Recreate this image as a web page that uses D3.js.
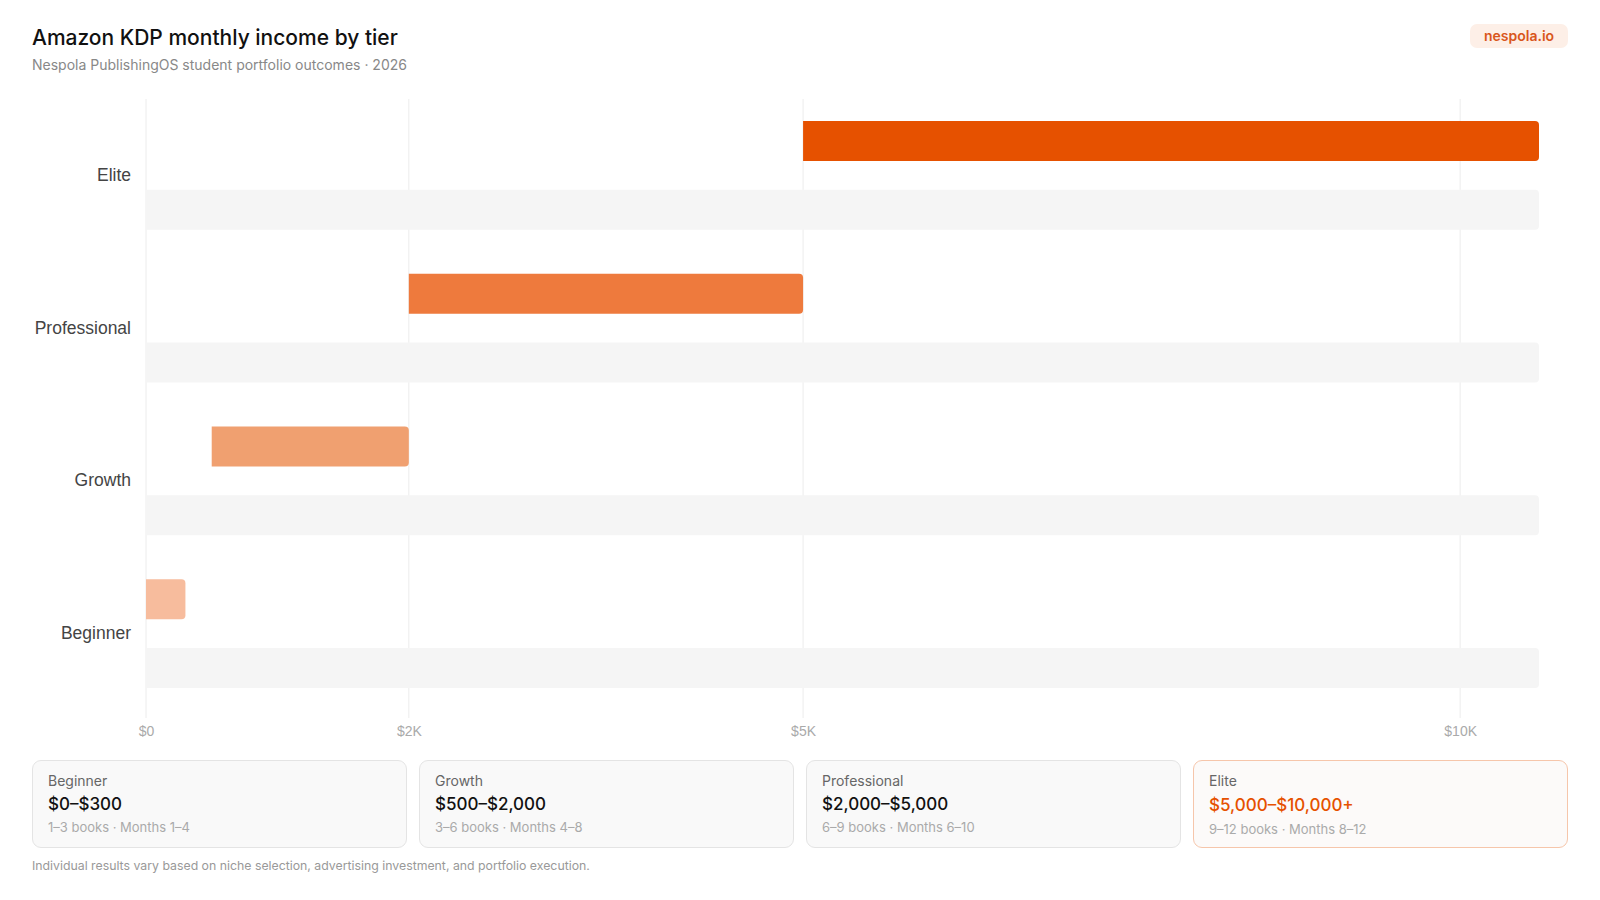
<!DOCTYPE html>
<html>
<head>
<meta charset="utf-8">
<script src="https://cdn.jsdelivr.net/npm/d3@7"></script>
<style>
  body { margin: 0; background: #fff; font-family: Inter, "Noto Sans", sans-serif; }
  #wrap { position: relative; width: 1600px; height: 900px; overflow: hidden; }
  .card { position: absolute; box-sizing: border-box; background: #f9f9f9; border: 1.5px solid #e4e4e4; border-radius: 9px; }
  .card.hot { border-color: #f6c6ab; background: #fcfaf9; }
  .card .lbl { position: absolute; left: 15px; top: 11px; font-size: 14px; color: #666; }
  .card .val { position: absolute; left: 15px; top: 33px; font-size: 17px; font-weight: 500; color: #111; }
  .card.hot .val { color: #e65100; top: 34px; }
  .card .sub { position: absolute; left: 15px; top: 58px; font-size: 13px; color: #aaa; }
  .card.hot .sub { top: 60px; }
</style>
</head>
<body>
<div id="wrap">
  <svg id="chart" width="1600" height="900" style="position:absolute;left:0;top:0"></svg>
</div>
<script>
// tiers, bottom to top
var tiers = ["Beginner", "Growth", "Professional", "Elite"];
var rangeLow = [0, 500, 2000, 5000];
var rangeHigh = [300, 2000, 5000, 10600];
var trackHigh = [10600, 10600, 10600, 10600];
var barColors = ["#f7bc9d", "#f0a070", "#ee7a3d", "#e65100"];

var xTicks = [0, 2000, 5000, 10000];
var xTickLabels = ["$0", "$2K", "$5K", "$10K"];

// cards under the chart
var cardRanges = ["$0\u2013$300", "$500\u2013$2,000", "$2,000\u2013$5,000", "$5,000\u2013$10,000+"];
var cardDetails = ["1\u20133 books \u00b7 Months 1\u20134", "3\u20136 books \u00b7 Months 4\u20138",
                   "6\u20139 books \u00b7 Months 6\u201310", "9\u201312 books \u00b7 Months 8\u201312"];

var data = tiers.map(function(t, i) {
  return {tier: t, lo: rangeLow[i], hi: rangeHigh[i], track: trackHigh[i], color: barColors[i]};
});

var plotLeft = 146, plotRight = 1539, plotTop = 99, plotBottom = 710;
var svg = d3.select("#chart");

// title + subtitle
svg.append("text").attr("x", 32).attr("y", 45)
  .style("font-family", "Inter").style("font-size", "21px").style("font-weight", 500)
  .attr("fill", "#111").text("Amazon KDP monthly income by tier");
svg.append("text").attr("x", 32).attr("y", 70)
  .style("font-family", "Inter").style("font-size", "14px")
  .attr("fill", "#888").text("Nespola PublishingOS student portfolio outcomes \u00b7 2026");

// badge
svg.append("rect").attr("x", 1470).attr("y", 24).attr("width", 98).attr("height", 24)
  .attr("rx", 7).attr("fill", "#fdefe7");
svg.append("text").attr("x", 1519).attr("y", 41).attr("text-anchor", "middle")
  .style("font-family", "Inter").style("font-size", "14px").style("font-weight", 600)
  .attr("fill", "#d9561c").text("nespola.io");

var x = d3.scaleLinear().domain([0, 10600]).range([plotLeft, plotRight]);
var y = d3.scaleBand().domain(tiers.slice().reverse()).range([plotTop, plotBottom])
  .paddingInner(0.1).paddingOuter(0.05);
var inner = d3.scaleBand().domain(["range", "track"]).range([0, y.bandwidth()])
  .paddingInner(0.42).paddingOuter(0.21);

// grid
svg.append("g").selectAll("line").data(xTicks).join("line")
  .attr("x1", d => x(d)).attr("x2", d => x(d))
  .attr("y1", plotTop).attr("y2", plotBottom + 8)
  .attr("stroke", "#ececec").attr("stroke-width", 1);

// bar with rounded right end
function barPath(x0, x1, y0, h, r) {
  r = Math.min(r, (x1 - x0) / 2, h / 2);
  return "M" + x0 + "," + y0 +
    "H" + (x1 - r) + "Q" + x1 + "," + y0 + " " + x1 + "," + (y0 + r) +
    "V" + (y0 + h - r) + "Q" + x1 + "," + (y0 + h) + " " + (x1 - r) + "," + (y0 + h) +
    "H" + x0 + "Z";
}

var rows = svg.append("g").selectAll("g").data(data).join("g")
  .attr("transform", d => "translate(0," + y(d.tier) + ")");

rows.append("path")
  .attr("d", d => barPath(x(0), x(d.track), inner("track"), inner.bandwidth(), 4))
  .attr("fill", "#f5f5f5");

rows.append("path")
  .attr("d", d => barPath(x(d.lo), x(d.hi), inner("range"), inner.bandwidth(), 4))
  .attr("fill", d => d.color);

// y labels
var yAxis = svg.append("g").attr("transform", "translate(" + (plotLeft - 15) + ",0)")
  .call(d3.axisLeft(y).tickSize(0).tickPadding(0));
yAxis.select(".domain").remove();
yAxis.selectAll("text").style("font-family", "'Liberation Sans', Arial, sans-serif")
  .style("font-size", "17.5px").attr("fill", "#444");

// x labels
var xAxis = svg.append("g").attr("transform", "translate(0," + (plotBottom + 11) + ")")
  .call(d3.axisBottom(x).tickValues(xTicks).tickFormat((d, i) => xTickLabels[i]).tickSize(0).tickPadding(5));
xAxis.select(".domain").remove();
xAxis.selectAll("text").style("font-family", "'Liberation Sans', Arial, sans-serif")
  .style("font-size", "14px").attr("fill", "#aaa");

// footnote
svg.append("text").attr("x", 32).attr("y", 870)
  .style("font-family", "Inter").style("font-size", "12.3px")
  .attr("fill", "#999").text("Individual results vary based on niche selection, advertising investment, and portfolio execution.");

// cards
var cardW = 375, gap = 12;
var cards = d3.select("#wrap").selectAll("div.card").data(tiers).join("div")
  .attr("class", (d, i) => i == tiers.length - 1 ? "card hot" : "card")
  .style("left", (d, i) => (32 + i * (cardW + gap)) + "px")
  .style("top", "760px")
  .style("width", cardW + "px")
  .style("height", "88px");
cards.append("div").attr("class", "lbl").text(d => d);
cards.append("div").attr("class", "val").text((d, i) => cardRanges[i]);
cards.append("div").attr("class", "sub").text((d, i) => cardDetails[i]);
</script>
</body>
</html>
